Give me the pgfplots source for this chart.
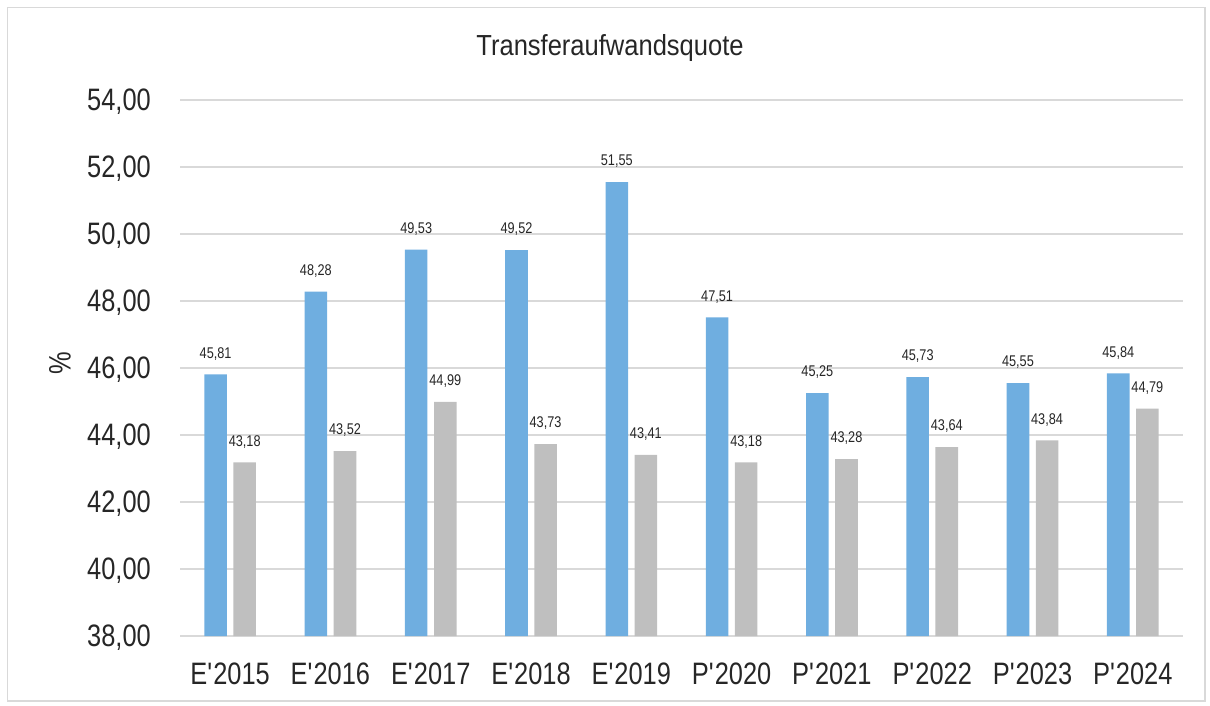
\documentclass[border=0pt]{standalone}
\usepackage{fontspec}
\setmainfont[FakeStretch=0.82]{Liberation Sans}
\newfontfamily\titlefont[FakeStretch=0.88]{Liberation Sans}
\usepackage{pgfplots}
\pgfplotsset{compat=1.18}
\definecolor{barblue}{RGB}{111,174,224}
\definecolor{bargray}{RGB}{191,191,191}
\definecolor{gridgray}{RGB}{217,217,217}
\definecolor{txt}{RGB}{38,38,38}
\newcommand{\q}{\textquotesingle}
\begin{document}
\begin{tikzpicture}[x=1pt,y=1pt]
\useasboundingbox (0,0) rectangle (1210,705);
\draw[gridgray, line width=1.5pt] (7.5,4) rectangle (1205,697.5);
\node[anchor=base, text=txt, inner sep=0pt, font=\titlefont\fontsize{29}{29}\selectfont] at (610,649) {Transferaufwandsquote};
\begin{axis}[
  at={(180pt,69pt)}, anchor=south west,
  scale only axis, width=1003pt, height=536pt,
  xmin=-0.5, xmax=9.5, ymin=38, ymax=54,
  ytick={38,40,...,54},
  xtick={0,...,9},
  xticklabels={E\q2015,E\q2016,E\q2017,E\q2018,E\q2019,P\q2020,P\q2021,P\q2022,P\q2023,P\q2024},
  axis line style={draw=none},
  major tick length=0pt,
  ymajorgrids, grid style={gridgray, line width=1.5pt},
  /pgf/number format/.cd, fixed, fixed zerofill, precision=2, use comma, assume math mode=true,
  /pgfplots/.cd,
  ybar, bar width=0.225,
  xticklabel style={font=\fontsize{31}{31}\selectfont, text=txt, inner sep=0pt, anchor=north, yshift=-27pt},
  yticklabel style={font=\fontsize{31}{31}\selectfont, text=txt, inner sep=0pt, anchor=east, xshift=-29pt, text depth=0pt},
  ylabel={\%},
  every axis y label/.style={at={(axis description cs:-0.1196,0.509)}, rotate=90, anchor=center, font=\fontsize{31}{31}\selectfont, text=txt},
  nodes near coords,
  every node near coord/.append style={font=\fontsize{15.5}{15.5}\selectfont, text=txt, inner sep=0pt, anchor=south, yshift=14pt},
]
\addplot[fill=barblue, draw=none, bar shift=-0.145] coordinates {
(0,45.81) (1,48.28) (2,49.53) (3,49.52) (4,51.55) (5,47.51) (6,45.25) (7,45.73) (8,45.55) (9,45.84)};
\addplot[fill=bargray, draw=none, bar shift=0.145] coordinates {
(0,43.18) (1,43.52) (2,44.99) (3,43.73) (4,43.41) (5,43.18) (6,43.28) (7,43.64) (8,43.84) (9,44.79)};
\end{axis}
\end{tikzpicture}
\end{document}
